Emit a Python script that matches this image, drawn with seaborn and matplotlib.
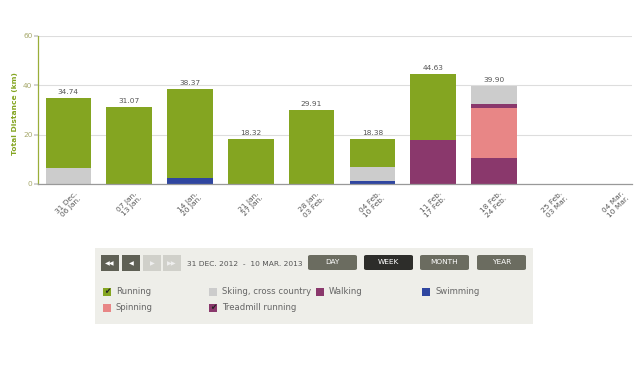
import matplotlib
matplotlib.use("Agg")
import matplotlib.pyplot as plt
import matplotlib.transforms as mtransforms
import seaborn as sns
import pandas as pd
import numpy as np
from matplotlib.patches import Rectangle, FancyBboxPatch

weeks = ["31 Dec.\n06 Jan.", "07 Jan.\n13 Jan.", "14 Jan.\n20 Jan.", "21 Jan.\n27 Jan.",
         "28 Jan.\n03 Feb.", "04 Feb.\n10 Feb.", "11 Feb.\n17 Feb.", "18 Feb.\n24 Feb.",
         "25 Feb.\n03 Mar.", "04 Mar.\n10 Mar."]
swimming  = [0.0, 0.0, 2.3, 0.0, 0.0, 1.4, 0.0, 0.0, 0, 0]
walking   = [0.0, 0.0, 0.0, 0.0, 0.0, 0.0, 0.0, 10.7, 0, 0]
spinning  = [0.0, 0.0, 0.0, 0.0, 0.0, 0.0, 0.0, 20.3, 0, 0]
treadmill = [0.0, 0.0, 0.0, 0.0, 0.0, 0.0, 18.0, 1.3, 0, 0]
skiing    = [6.6, 0.0, 0.0, 0.0, 0.0, 5.5, 0.0, 7.6, 0, 0]
running   = [28.14, 31.07, 36.07, 18.32, 29.91, 11.48, 26.63, 0.0, 0, 0]
totals    = ["34.74", "31.07", "38.37", "18.32", "29.91", "18.38", "44.63", "39.90", "", ""]

series = [("Swimming", swimming, "#2f46a0"),
          ("Walking", walking, "#8a386c"),
          ("Spinning", spinning, "#e88686"),
          ("Treadmill running", treadmill, "#8a386c"),
          ("Skiing, cross country", skiing, "#cccccc"),
          ("Running", running, "#84a521")]

sns.set_theme(style="white")
plt.rcParams['font.family'] = ['DejaVu Sans']

fig = plt.figure(figsize=(6.4, 3.72), dpi=100)
ax = fig.add_axes([38/640, 1-184/372, (632-38)/640, (184-36)/372])

bottom = np.zeros(len(weeks))
for name, vals, col in series:
    v = np.array(vals, dtype=float)
    sns.barplot(x=np.arange(len(weeks)), y=v, bottom=bottom, color=col, width=0.75,
                ax=ax, native_scale=True, saturation=1, linewidth=0, errorbar=None)
    bottom = bottom + v

tot = bottom
for i, t in enumerate(totals):
    if t:
        ax.text(i, tot[i] + 1.2, t, ha="center", va="bottom", fontsize=5.3, color="#555555")

ax.set_xlim(-0.5, 9.27)
ax.set_ylim(0, 60)
ax.set_yticks([0, 20, 40, 60])
ax.set_yticklabels(["0", "20", "40", "60"], fontsize=5.3, color="#a6a86a")
ax.yaxis.grid(True, color="#dddddd", linewidth=0.8)
ax.set_axisbelow(True)
ax.set_xticks(range(len(weeks)))
ax.set_xticklabels(weeks, rotation=45, ha="center", fontsize=5.3,
                   color="#555555", linespacing=1.1)
offset = mtransforms.ScaledTranslation(5/100, 0, fig.dpi_scale_trans)
for lbl in ax.get_xticklabels():
    lbl.set_transform(lbl.get_transform() + offset)
ax.tick_params(axis="x", length=3, color="#888888", pad=1.5)
ax.tick_params(axis="y", length=3, color="#cccccc", pad=1, left=True)
for s in ["top", "right"]:
    ax.spines[s].set_visible(False)
ax.spines["left"].set_color("#9aae3a")
ax.spines["left"].set_linewidth(0.9)
ax.spines["bottom"].set_color("#999999")
ax.spines["bottom"].set_linewidth(0.9)
ax.set_ylabel("")
ax.set_xlabel("")
fig.text(15/640, 1 - 114/372, "Total Distance (km)", rotation=90, ha="center", va="center",
         fontsize=5.4, color="#84a521", fontweight="bold")

# control panel
W, H = 640, 372
def px(x, y, w, h):
    return (x / W, 1 - (y + h) / H, w / W, h / H)

def rect(x, y, w, h, fc, round_=False):
    X, Y, Ww, Hh = px(x, y, w, h)
    if round_:
        p = FancyBboxPatch((X, Y), Ww, Hh, boxstyle="round,pad=0,rounding_size=0.004",
                           transform=fig.transFigure, fc=fc, ec="none")
    else:
        p = Rectangle((X, Y), Ww, Hh, transform=fig.transFigure, fc=fc, ec="none")
    fig.add_artist(p)

def ftext(x, y, s, **kw):
    fig.text(x / W, 1 - y / H, s, **kw)

rect(95, 248, 438, 76, "#eeeee9")

nav = [(101, "#5f6055", "\u25c0\u25c0"), (122, "#5f6055", "\u25c0"),
       (143, "#d0d0ca", "\u25b6"), (163, "#d0d0ca", "\u25b6\u25b6")]
for x, c, sym in nav:
    rect(x, 255, 18, 16, c)
    ftext(x + 9, 263.5, sym, ha="center", va="center", fontsize=4.5,
          color="white" if c == "#5f6055" else "#eeeeee")
ftext(187, 263.5, "31 DEC. 2012  -  10 MAR. 2013", fontsize=5.4, color="#555555", va="center")

buttons = [(308, "DAY", "#6b6c60"), (364, "WEEK", "#2d2d2a"),
           (420, "MONTH", "#6b6c60"), (477, "YEAR", "#6b6c60")]
for x, lbl, c in buttons:
    rect(x, 255, 49, 15, c, round_=True)
    ftext(x + 24.5, 262.5, lbl, ha="center", va="center", fontsize=5.3, color="white")

legend_items = [(103, 292, "#84a521", "Running", True),
                (209, 292, "#cccccc", "Skiing, cross country", False),
                (316, 292, "#8a386c", "Walking", False),
                (422, 292, "#2f46a0", "Swimming", False),
                (103, 308, "#e88686", "Spinning", False),
                (209, 308, "#8a386c", "Treadmill running", True)]
for x, y, c, lbl, chk in legend_items:
    rect(x, y - 4.5, 8, 8, c)
    if chk:
        ftext(x + 4, y - 0.5, "\u2714", ha="center", va="center", fontsize=5.5, color="#222222")
    ftext(x + 13, y, lbl, fontsize=6.1, color="#666666", va="center")

fig.savefig("out.png", dpi=100, facecolor="white")
